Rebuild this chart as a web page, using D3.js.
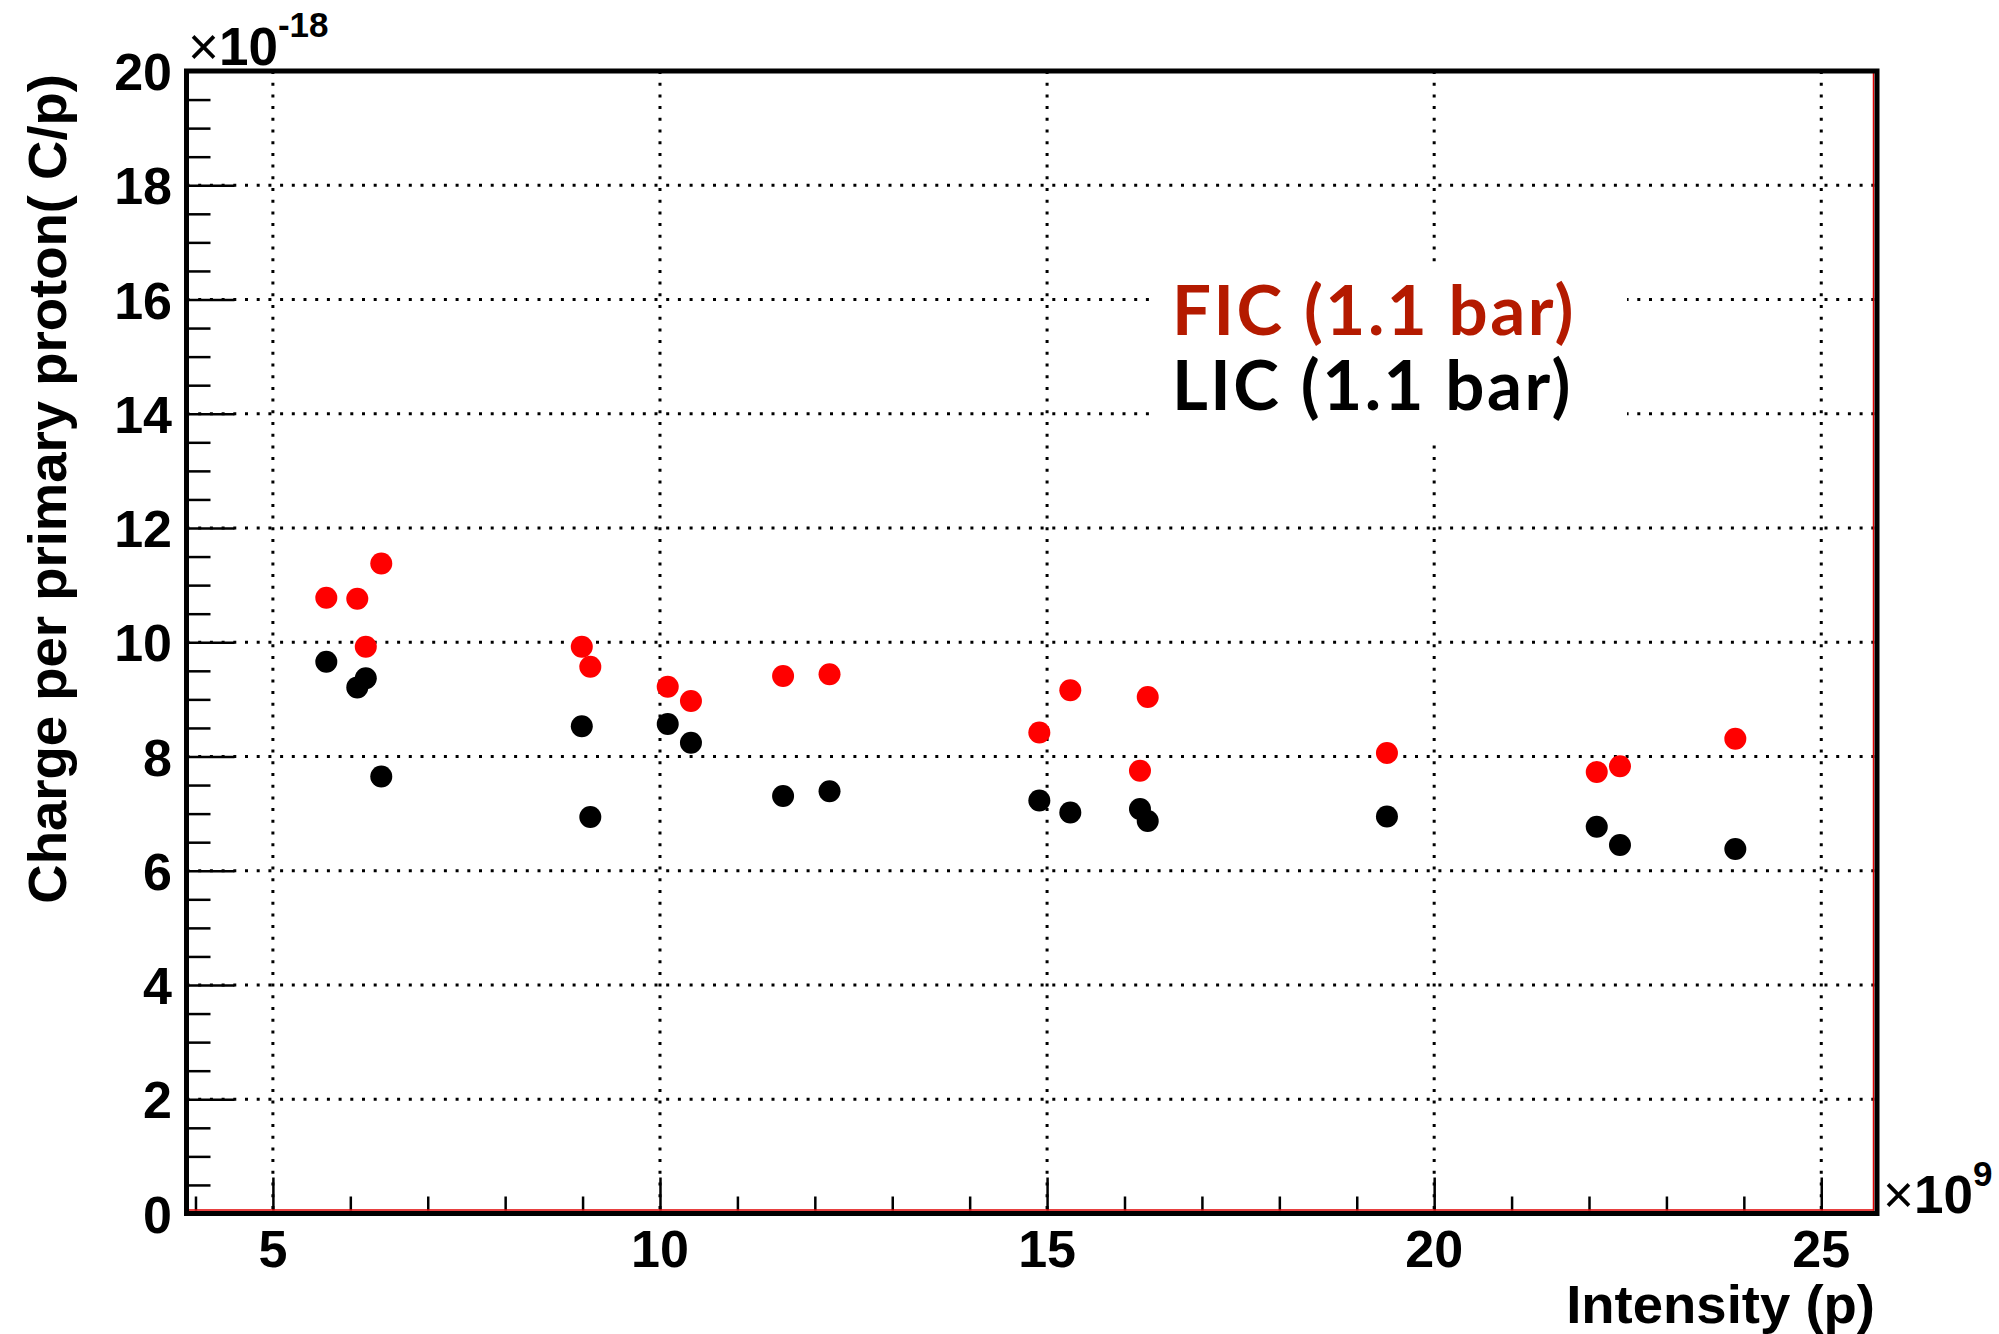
<!DOCTYPE html>
<html>
<head>
<meta charset="utf-8">
<script src="https://cdn.jsdelivr.net/npm/d3@7"></script>
<style>
  body { margin: 0; background: #fff; }
  svg { display: block; }
</style>
</head>
<body>
<svg id="chart" width="1999" height="1334"></svg>
<script>
// intensity in units of 1e9 protons
var intensity = [5.69, 6.09, 6.20, 6.40, 8.99, 9.10, 10.10, 10.40, 11.59, 12.19,
                 14.90, 15.30, 16.20, 16.30, 19.39, 22.10, 22.40, 23.89];
// charge per primary proton, units of 1e-18 C/p
var ficCharge = [10.78, 10.76, 9.92, 11.38, 9.92, 9.57, 9.22, 8.97, 9.41, 9.44,
                 8.42, 9.16, 7.75, 9.04, 8.06, 7.73, 7.83, 8.31];
var licCharge = [9.66, 9.21, 9.37, 7.65, 8.53, 6.94, 8.57, 8.24, 7.31, 7.39,
                 7.23, 7.02, 7.08, 6.87, 6.95, 6.77, 6.45, 6.38];
var xMajorTicks = [5, 10, 15, 20, 25];
var yMajorTicks = [0, 2, 4, 6, 8, 10, 12, 14, 16, 18, 20];
var legendLabels = ['FIC (1.1 bar)', 'LIC (1.1 bar)'];

var frame = { left: 186.5, right: 1877, top: 71, bottom: 1213.5 };
var font = '"Liberation Sans", Arial, sans-serif';

var svg = d3.select('#chart');

var x = d3.scaleLinear().domain([3.884, 25.72]).range([frame.left, frame.right]);
var y = d3.scaleLinear().domain([0, 20]).range([frame.bottom, frame.top]);

// grid
var grid = svg.append('g').attr('class', 'grid')
    .attr('stroke', '#000').attr('stroke-width', 3).attr('stroke-dasharray', '3,8.7');
grid.selectAll('line.gx').data(xMajorTicks).enter().append('line')
    .attr('x1', function (d) { return x(d); }).attr('x2', function (d) { return x(d); })
    .attr('y1', frame.top).attr('y2', frame.bottom);
grid.selectAll('line.gy').data(yMajorTicks.filter(function (d) { return d > 0 && d < 20; })).enter().append('line')
    .attr('y1', function (d) { return y(d); }).attr('y2', function (d) { return y(d); })
    .attr('x1', frame.left).attr('x2', frame.right);

// legend box hides the grid behind it
var legend = svg.append('g').attr('class', 'legend');
legend.append('rect').attr('x', 1157).attr('y', 262).attr('width', 470).attr('height', 178).attr('fill', '#fff');
legend.selectAll('text').data(legendLabels).enter().append('text')
    .attr('x', 1172)
    .attr('y', function (d, i) { return 335 + i * 75; })
    .style('font-family', 'Lato, "Open Sans", sans-serif')
    .style('font-weight', 'bold')
    .style('font-size', '69px')
    .style('letter-spacing', '2.5px')
    .style('fill', function (d, i) { return i === 0 ? '#b41a00' : '#000'; })
    .text(function (d) { return d; });

// ticks on y
var yAxis = d3.axisLeft(y)
    .tickValues(d3.range(0, 20.01, 0.5))
    .tickSize(-22)
    .tickFormat('');
var yAx = svg.append('g').attr('transform', 'translate(' + frame.left + ',0)').call(yAxis);
yAx.select('.domain').remove();
yAx.selectAll('.tick line').attr('stroke-width', 2.5)
    .attr('x1', 2)
    .attr('x2', function (d) { return d % 2 === 0 ? 48 : 24; });

// ticks on x
var xAxis = d3.axisBottom(x)
    .tickValues(d3.range(4, 26, 1))
    .tickSize(-14)
    .tickFormat('');
var xAx = svg.append('g').attr('transform', 'translate(0,' + frame.bottom + ')').call(xAxis);
xAx.select('.domain').remove();
xAx.selectAll('.tick line').attr('stroke-width', 2.5)
    .attr('y1', -3)
    .attr('y2', function (d) { return d % 5 === 0 ? -36 : -17; });

// tick labels
svg.append('g').selectAll('text').data(yMajorTicks).enter().append('text')
    .attr('x', 172).attr('y', function (d) { return y(d) + 19; })
    .attr('text-anchor', 'end')
    .style('font-family', font).style('font-weight', 'bold').style('font-size', '52px')
    .text(function (d) { return d; });
svg.append('g').selectAll('text').data(xMajorTicks).enter().append('text')
    .attr('x', function (d) { return x(d); }).attr('y', 1267)
    .attr('text-anchor', 'middle')
    .style('font-family', font).style('font-weight', 'bold').style('font-size', '52px')
    .text(function (d) { return d; });

// points
var pts = svg.append('g').attr('class', 'points');
pts.selectAll('circle.fic').data(intensity).enter().append('circle')
    .attr('cx', function (d) { return x(d); })
    .attr('cy', function (d, i) { return y(ficCharge[i]); })
    .attr('r', 11).attr('fill', '#ff0000');
pts.selectAll('circle.lic').data(intensity).enter().append('circle')
    .attr('cx', function (d) { return x(d); })
    .attr('cy', function (d, i) { return y(licCharge[i]); })
    .attr('r', 11).attr('fill', '#000');

// frame with thin red inner edge at bottom and right
svg.append('line').attr('x1', frame.left).attr('x2', frame.right - 3)
    .attr('y1', frame.bottom - 3.5).attr('y2', frame.bottom - 3.5)
    .attr('stroke', '#e00000').attr('stroke-width', 1.5);
svg.append('line').attr('x1', frame.right - 3.5).attr('x2', frame.right - 3.5)
    .attr('y1', frame.top).attr('y2', frame.bottom - 3)
    .attr('stroke', '#e00000').attr('stroke-width', 1.5);
svg.append('rect')
    .attr('x', frame.left).attr('y', frame.top)
    .attr('width', frame.right - frame.left).attr('height', frame.bottom - frame.top)
    .attr('fill', 'none').attr('stroke', '#000').attr('stroke-width', 5);

// exponents
var expY = svg.append('text').attr('x', 188).attr('y', 65)
    .style('font-family', font).style('font-size', '53px');
expY.append('tspan').text('\u00d7');
expY.append('tspan').style('font-weight', 'bold').text('10');
expY.append('tspan').attr('dy', -28).style('font-weight', 'bold').style('font-size', '35px').text('-18');

var expX = svg.append('text').attr('x', 1883).attr('y', 1213)
    .style('font-family', font).style('font-size', '53px');
expX.append('tspan').text('\u00d7');
expX.append('tspan').style('font-weight', 'bold').text('10');
expX.append('tspan').attr('dy', -27).style('font-weight', 'bold').style('font-size', '35px').text('9');

// axis titles
svg.append('text')
    .attr('x', 1875).attr('y', 1323)
    .attr('text-anchor', 'end')
    .style('font-family', font).style('font-weight', 'bold').style('font-size', '54.5px')
    .text('Intensity (p)');
svg.append('text')
    .attr('transform', 'translate(66,74) rotate(-90)')
    .attr('text-anchor', 'end')
    .style('font-family', font).style('font-weight', 'bold').style('font-size', '54.5px')
    .text('Charge per primary proton( C/p)');
</script>
</body>
</html>
